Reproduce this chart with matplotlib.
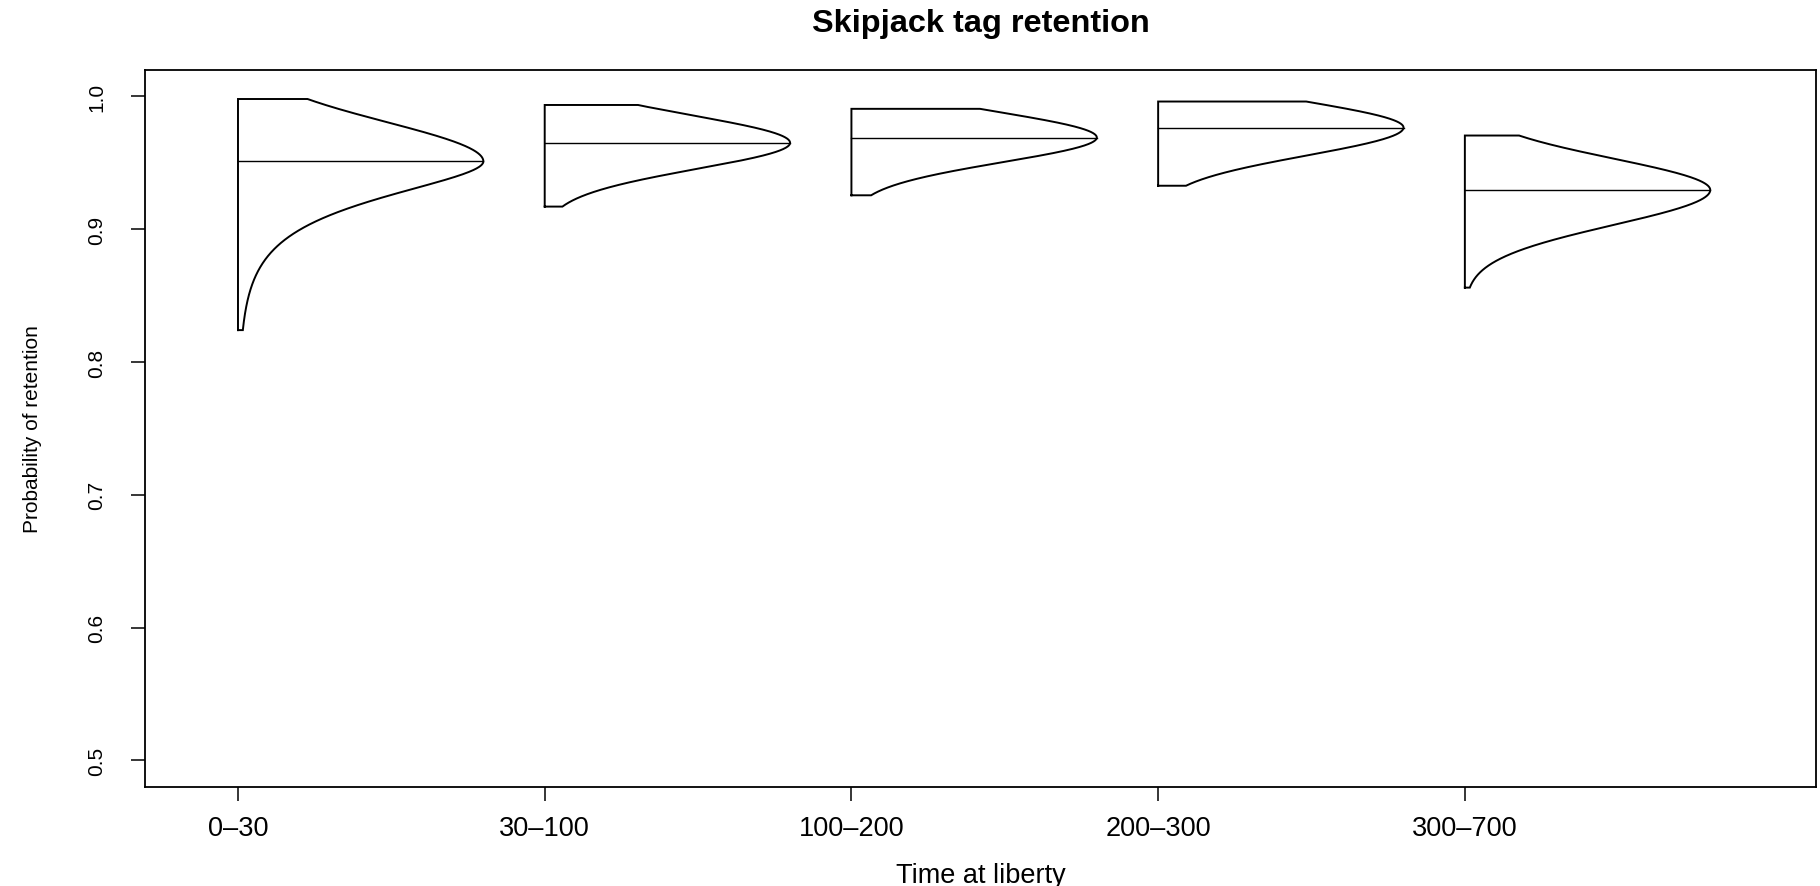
import numpy as np
import matplotlib
matplotlib.use('Agg')
import matplotlib.pyplot as plt
from matplotlib import font_manager

# posterior summaries per time-at-liberty class
groups = ['0\u201330', '30\u2013100', '100\u2013200', '200\u2013300', '300\u2013700']
post_mode = [0.951, 0.965, 0.969, 0.9765, 0.9295]
post_lower = [0.824, 0.917, 0.9255, 0.9327, 0.856]
post_upper = [0.998, 0.9935, 0.9906, 0.9961, 0.9705]
sd_above = [0.0296, 0.0205, 0.019, 0.0195, 0.0236]
sd_below = [0.0212, 0.0195, 0.0185, 0.021, 0.0263]
tail_growth = [0.19, 0.03, 0.02, 0.0, 0.0]
y_ticks = [0.5, 0.6, 0.7, 0.8, 0.9, 1.0]

MAX_W = 0.8  # width of each half-violin at its peak, in x units

installed = {f.name for f in font_manager.fontManager.ttflist}
if 'Liberation Sans Narrow' in installed:
    narrow, narrow_size = 'Liberation Sans Narrow', 19.5
else:
    narrow, narrow_size = 'Liberation Sans', 15.0
plt.rcParams['font.family'] = ['Liberation Sans', 'DejaVu Sans']

fig = plt.figure(figsize=(18.2, 8.87), dpi=100)
ax = fig.add_axes([0.0797, 0.1116, 0.9183, 0.8086])

for i, (m, lo, hi, su, sl, kg) in enumerate(zip(post_mode, post_lower, post_upper,
                                                 sd_above, sd_below, tail_growth)):
    x0 = i + 1
    y = np.sort(np.append(np.linspace(lo, hi, 600), m))
    d = y - m
    sd = np.where(d >= 0, su, sl + kg * np.abs(d))
    w = np.exp(-0.5 * (d / sd) ** 2)
    w = w / w.max() * MAX_W
    xs = np.concatenate([[x0], x0 + w, [x0, x0]])
    ys = np.concatenate([[lo], y, [hi, lo]])
    ax.plot(xs, ys, color='black', lw=1.4, solid_joinstyle='miter')
    ax.plot([x0, x0 + MAX_W], [m, m], color='black', lw=1.0)

ax.set_xlim(0.697, 6.146)
ax.set_ylim(0.48, 1.02)
ax.set_xticks(range(1, len(groups) + 1))
ax.set_xticklabels(groups, fontsize=19.5)
ax.set_yticks(y_ticks)
ax.set_yticklabels([f'{v:.1f}' for v in y_ticks], rotation=90, va='center',
                   family=narrow, fontsize=narrow_size)
ax.tick_params(axis='x', length=10, width=1.1, pad=10)
ax.tick_params(axis='y', length=10, width=1.1, pad=18)
for s in ax.spines.values():
    s.set_linewidth(1.3)

fig.text(0.5389, 0.9735, 'Skipjack tag retention', ha='center', va='center',
         fontsize=23.4, fontweight='bold')
fig.text(0.5389, 0.0120, 'Time at liberty', ha='center', va='center', fontsize=19.5)
fig.text(0.0178, 0.5159, 'Probability of retention', ha='center', va='center',
         rotation=90, family=narrow, fontsize=narrow_size)

fig.savefig('out.png', dpi=100)
